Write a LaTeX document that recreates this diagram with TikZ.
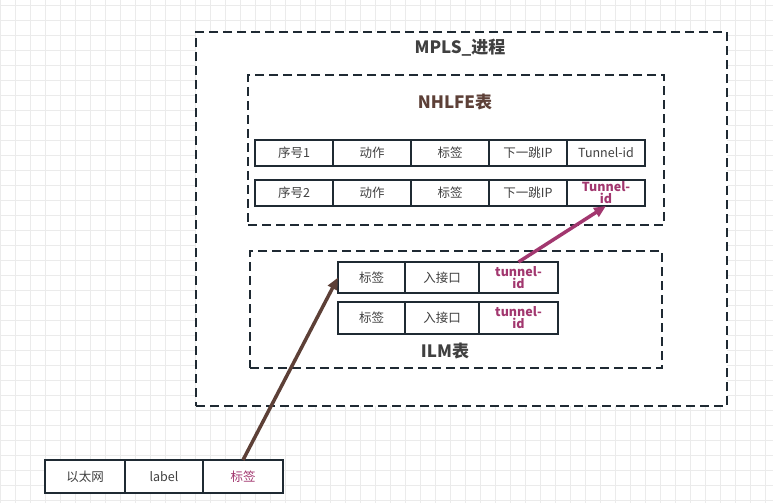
\documentclass[tikz,border=0pt]{standalone}
\usepackage{fontspec}
\setmainfont{Noto Sans CJK SC}
\usetikzlibrary{arrows.meta, positioning}
\definecolor{edge}{HTML}{1F2A33}
\definecolor{txt}{HTML}{404040}
\definecolor{plum}{HTML}{A2376F}
\definecolor{bark}{HTML}{5D4037}
\definecolor{gridc}{HTML}{EBEBEB}

\begin{document}
\begin{tikzpicture}[x=1pt, y=-1pt,
    cell/.style={draw=edge, line width=2pt, fill=white, minimum height=26pt, minimum width=78pt,
                 inner sep=0pt, outer sep=0pt, font=\fontsize{12.5}{13}\selectfont, text=txt, align=center},
    hot/.style={text=plum, font=\fontsize{12.5}{13}\selectfont\bfseries},
    zone/.style={draw=edge, line width=2pt, dash pattern=on 9pt off 5pt, fill=white, inner sep=0pt, outer sep=0pt},
    ttl/.style={font=\fontsize{17}{19}\selectfont\bfseries, text=txt},
    arr/.style={-{Triangle[length=12pt, width=10pt]}, line width=3.5pt}]
  \useasboundingbox (0,0) rectangle (773,503);
  % background grid
  \foreach \gx in {0,15,...,765} \draw[gridc] (\gx,0) -- (\gx,503);
  \foreach \gy in {5,20,...,500} \draw[gridc] (0,\gy) -- (773,\gy);

  % dashed frames
  \node[zone, minimum width=531pt, minimum height=374pt] (mpls) at (461.5,219) {};
  \node[zone, minimum width=416pt, minimum height=150pt] (nhzone) at (456,150) {};
  \node[zone, minimum width=412pt, minimum height=117pt] (ilmzone) at (456,309.5) {};
  \node[ttl] (mplsttl) at (460,48) {MPLS\_进程};
  \node[ttl, text=bark] (nhttl) at (455,102) {NHLFE表};
  \node[ttl] (ilmttl) at (445,351) {ILM表};

  % NHLFE table
  \node[cell] (nh11) at (294,153) {序号1};
  \node[cell, right=0pt of nh11] (nh12) {动作};
  \node[cell, right=0pt of nh12] (nh13) {标签};
  \node[cell, right=0pt of nh13] (nh14) {下一跳IP};
  \node[cell, right=0pt of nh14] (nh15) {Tunnel-id};
  \node[cell, below=14pt of nh11] (nh21) {序号2};
  \node[cell, right=0pt of nh21] (nh22) {动作};
  \node[cell, right=0pt of nh22] (nh23) {标签};
  \node[cell, right=0pt of nh23] (nh24) {下一跳IP};
  \node[cell, hot, right=0pt of nh24] (nh25) {Tunnel-\\[-1pt]id};

  % ILM table
  \node[cell, minimum width=67pt, minimum height=31pt] (il11) at (371.5,277.5) {标签};
  \node[cell, minimum width=74pt, minimum height=31pt, right=0pt of il11] (il12) {入接口};
  \node[cell, hot, minimum width=79pt, minimum height=31pt, right=0pt of il12] (il13) {tunnel-\\[-1pt]id};
  \node[cell, minimum width=67pt, minimum height=32pt, below=9pt of il11] (il21) {标签};
  \node[cell, minimum width=74pt, minimum height=32pt, right=0pt of il21] (il22) {入接口};
  \node[cell, hot, minimum width=79pt, minimum height=32pt, right=0pt of il22] (il23) {tunnel-\\[-1pt]id};

  % ethernet frame
  \node[cell, minimum width=80pt, minimum height=33pt] (et1) at (85,476.5) {以太网};
  \node[cell, minimum height=33pt, right=0pt of et1] (et2) {label};
  \node[cell, text=plum, minimum width=80pt, minimum height=33pt, right=0pt of et2] (et3) {标签};

  \draw[arr, bark] (et3.north) -- (il11.west);
  \draw[arr, plum] (il13.north) -- (nh25.south);
\end{tikzpicture}
\end{document}
